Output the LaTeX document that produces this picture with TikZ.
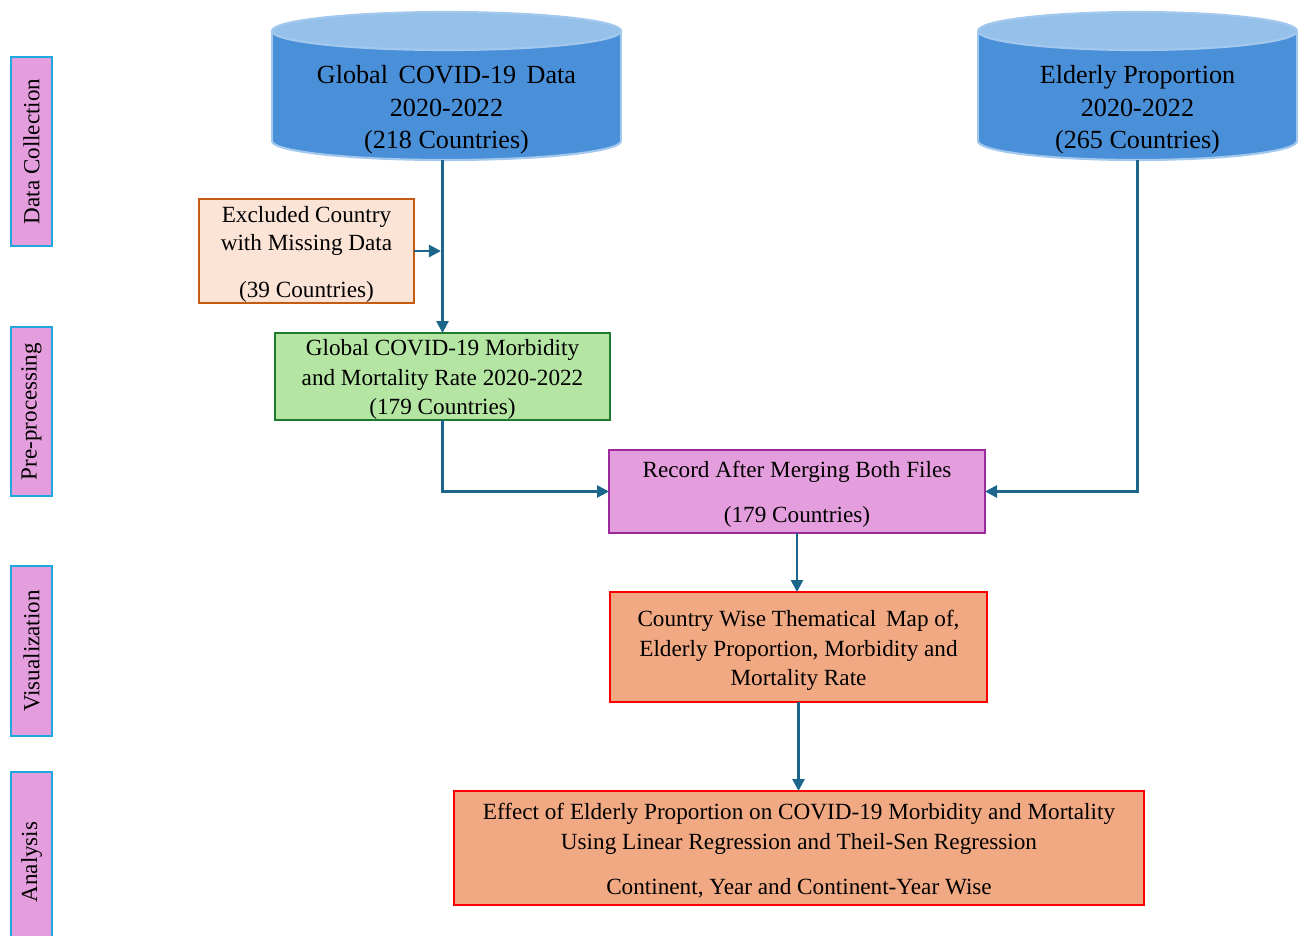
\documentclass[tikz,border=0pt]{standalone}
\usepackage{fontspec}
\setmainfont{Liberation Serif}
\usetikzlibrary{arrows.meta}
\definecolor{cylbody}{HTML}{4A90D9}
\definecolor{cyltop}{HTML}{95C0EA}
\definecolor{cylborder}{HTML}{A3C8EE}
\definecolor{sidefill}{HTML}{E59EDD}
\definecolor{sideborder}{HTML}{1FA8E0}
\definecolor{exfill}{HTML}{FBE3D6}
\definecolor{exborder}{HTML}{C55A11}
\definecolor{grfill}{HTML}{B4E5A2}
\definecolor{grborder}{HTML}{1E7B2E}
\definecolor{mgfill}{HTML}{E59EDD}
\definecolor{mgborder}{HTML}{9C2A9C}
\definecolor{salfill}{HTML}{F1A983}
\definecolor{salborder}{HTML}{FF0000}
\definecolor{arrowc}{HTML}{1B668A}
\begin{document}
\begin{tikzpicture}[x=0.75pt,y=-0.75pt,
  every node/.style={inner sep=0pt, outer sep=0pt},
  txt/.style={font=\fontsize{17.4}{22}\selectfont, align=center, text=black},
  cyltxt/.style={font=\fontsize{19.6}{24.4}\selectfont, align=center, text=black},
  sidebox/.style={draw=sideborder, fill=sidefill, line width=1.5pt, rotate=90,
     font=\fontsize{17.3}{20}\selectfont, minimum height=41*0.75pt},
  boxbase/.style={line width=2.2pt},
  exbox/.style={boxbase, draw=exborder, fill=exfill},
  grbox/.style={boxbase, draw=grborder, fill=grfill},
  mgbox/.style={boxbase, draw=mgborder, fill=mgfill},
  salbox/.style={boxbase, draw=salborder, fill=salfill},
  cylline/.style={draw=cylborder, line width=1.6pt},
  flow/.style={draw=arrowc, line width=2pt, -{Triangle[length=9pt,width=9pt]}}
]
\clip (0,0) rectangle (1304,936);

% side labels
\node[sidebox, minimum width=189*0.75pt] (dc) at (31.5,151.5) {Data Collection};
\node[sidebox, minimum width=169*0.75pt] (pp) at (31.5,411.5) {Pre-processing};
\node[sidebox, minimum width=170*0.75pt] (vi) at (31.5,651) {Visualization};
\node[sidebox, minimum width=180*0.75pt] (an) at (31.5,862) {Analysis};

% cylinder 1
\fill[cylbody, cylline] (446.5,141) ellipse [x radius=130.875pt, y radius=14.25pt];
\fill[cylbody] (272,31) rectangle (621,141);
\draw[cylline] (272,31) -- (272,141) (621,31) -- (621,141);
\filldraw[cyltop, cylline] (446.5,31) ellipse [x radius=130.875pt, y radius=14.25pt];
\node[minimum width=349*0.75pt, minimum height=148*0.75pt] (cyl1) at (446.5,86) {};
\node[cyltxt] (cyl1t) at (446.5,110) {Global\hspace{3pt} COVID-19\hspace{3pt} Data\\2020-2022\\(218 Countries)};

% cylinder 2
\fill[cylbody, cylline] (1137.5,141) ellipse [x radius=119.625pt, y radius=14.25pt];
\fill[cylbody] (978,31) rectangle (1297,141);
\draw[cylline] (978,31) -- (978,141) (1297,31) -- (1297,141);
\filldraw[cyltop, cylline] (1137.5,31) ellipse [x radius=119.625pt, y radius=14.25pt];
\node[minimum width=319*0.75pt, minimum height=148*0.75pt] (cyl2) at (1137.5,86) {};
\node[cyltxt] (cyl2t) at (1137.5,110) {Elderly Proportion\\2020-2022\\(265 Countries)};

% boxes
\node[exbox, minimum width=215*0.75pt, minimum height=104*0.75pt] (ex) at (306.5,251) {};
\node[txt, font=\fontsize{17.4}{21}\selectfont] (ext) at (306.5,254.5)
  {Excluded Country\\with Missing Data\\[14pt](39 Countries)};
\node[grbox, minimum width=335*0.75pt, minimum height=87*0.75pt] (gm) at (442.5,376.5) {};
\node[txt] (gmt) at (442.5,379.5)
  {Global COVID-19 Morbidity\\and Mortality Rate 2020-2022\\(179 Countries)};
\node[mgbox, minimum width=376*0.75pt, minimum height=83*0.75pt] (mg) at (797,491.5) {};
\node[txt] (mgt) at (797,494.5)
  {Record After Merging Both Files\\[11.75pt](179 Countries)};
\node[salbox, minimum width=377*0.75pt, minimum height=110*0.75pt] (mp) at (798.5,647) {};
\node[txt] (mpt) at (798.5,650.5)
  {Country Wise Thematical\hspace{3pt} Map of,\\Elderly Proportion, Morbidity and\\Mortality Rate};
\node[salbox, minimum width=690*0.75pt, minimum height=114*0.75pt] (ef) at (799,848) {};
\node[txt, font=\fontsize{17.4}{22.5}\selectfont] (eft) at (799,851)
  {Effect of Elderly Proportion on COVID-19 Morbidity and Mortality\\Using Linear Regression and Theil-Sen Regression\\[11.25pt]Continent, Year and Continent-Year Wise};

% connectors
\draw[flow] (cyl1.south -| gm.north) -- (gm.north);
\draw[flow, shorten >=1.2pt] (ex.east) -- (ex.east -| gm.north);
\draw[flow] (gm.south) |- (mg.west);
\draw[flow] (cyl2.south) |- (mg.east);
\draw[flow] (mg.south) -- (mg.south |- mp.north);
\draw[flow] (mp.south) -- (mp.south |- ef.north);
\end{tikzpicture}
\end{document}
